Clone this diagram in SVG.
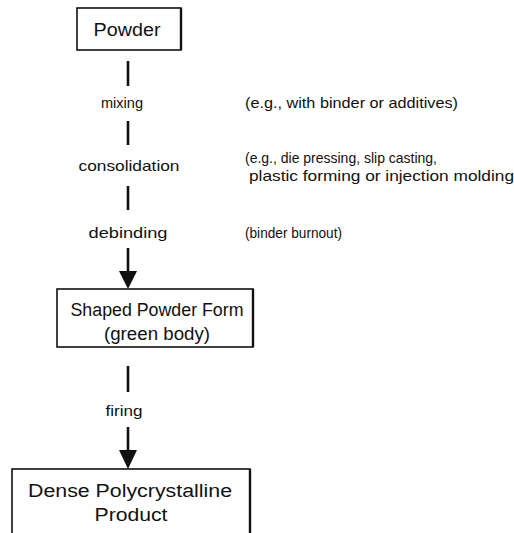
<svg xmlns="http://www.w3.org/2000/svg" width="514" height="533" viewBox="0 0 514 533">
<defs>
<style>
.box{fill:#fff;stroke:#111;stroke-width:1.6}
.edge{stroke:#111;stroke-width:2.4}
.conn{stroke:#111;stroke-width:2.6;fill:none}
.head{fill:#111}
.bt{font-family:"Liberation Sans",Arial,sans-serif;font-size:18px;fill:#111;text-anchor:middle}
.lb{font-family:"Liberation Sans",Arial,sans-serif;font-size:14.5px;fill:#111;text-anchor:middle}
.nt{font-family:"Liberation Sans",Arial,sans-serif;font-size:14.5px;fill:#111}
</style>
</defs>
<rect width="514" height="533" fill="#fff"/>
<g id="connectors">
<line class="conn" x1="128" y1="61" x2="128" y2="86"/>
<line class="conn" x1="128" y1="121" x2="128" y2="145"/>
<line class="conn" x1="128" y1="186" x2="128" y2="210"/>
<line class="conn" x1="128" y1="248" x2="128" y2="274"/>
<polygon class="head" points="119,271 137,271 128,289"/>
<line class="conn" x1="128" y1="366" x2="128" y2="392"/>
<line class="conn" x1="128" y1="427" x2="128" y2="452"/>
<polygon class="head" points="119,450 137,450 128,469"/>
</g>
<g id="labels">
<text class="lb" x="122" y="108" textLength="42" lengthAdjust="spacingAndGlyphs">mixing</text>
<text class="lb" x="129" y="171" textLength="101" lengthAdjust="spacingAndGlyphs">consolidation</text>
<text class="lb" x="128" y="238" textLength="79" lengthAdjust="spacingAndGlyphs">debinding</text>
<text class="lb" x="124" y="416" textLength="37" lengthAdjust="spacingAndGlyphs">firing</text>
<text class="nt" x="245" y="108" textLength="213" lengthAdjust="spacingAndGlyphs">(e.g., with binder or additives)</text>
<text class="nt" x="245" y="163" textLength="192" lengthAdjust="spacingAndGlyphs">(e.g., die pressing, slip casting,</text>
<text class="nt" x="249" y="181" textLength="265" lengthAdjust="spacingAndGlyphs">plastic forming or injection molding</text>
<text class="nt" x="245" y="238" textLength="97" lengthAdjust="spacingAndGlyphs">(binder burnout)</text>
</g>
<g id="powder">
<rect class="box" x="77" y="8" width="104" height="42"/>
<line class="edge" x1="181" y1="8" x2="181" y2="50"/>
<text class="bt" x="127" y="36" textLength="67" lengthAdjust="spacingAndGlyphs">Powder</text>
</g>
<g id="green-body">
<rect class="box" x="57" y="289" width="196" height="58"/>
<line class="edge" x1="253" y1="289" x2="253" y2="347"/>
<text class="bt" x="157" y="316" textLength="173" lengthAdjust="spacingAndGlyphs">Shaped Powder Form</text>
<text class="bt" x="157" y="340" textLength="106" lengthAdjust="spacingAndGlyphs">(green body)</text>
</g>
<g id="product">
<rect class="box" x="12" y="469" width="238" height="80"/>
<line class="edge" x1="250" y1="469" x2="250" y2="533"/>
<text class="bt" x="130" y="497" textLength="204" lengthAdjust="spacingAndGlyphs">Dense Polycrystalline</text>
<text class="bt" x="131" y="521" textLength="73" lengthAdjust="spacingAndGlyphs">Product</text>
</g>
</svg>
